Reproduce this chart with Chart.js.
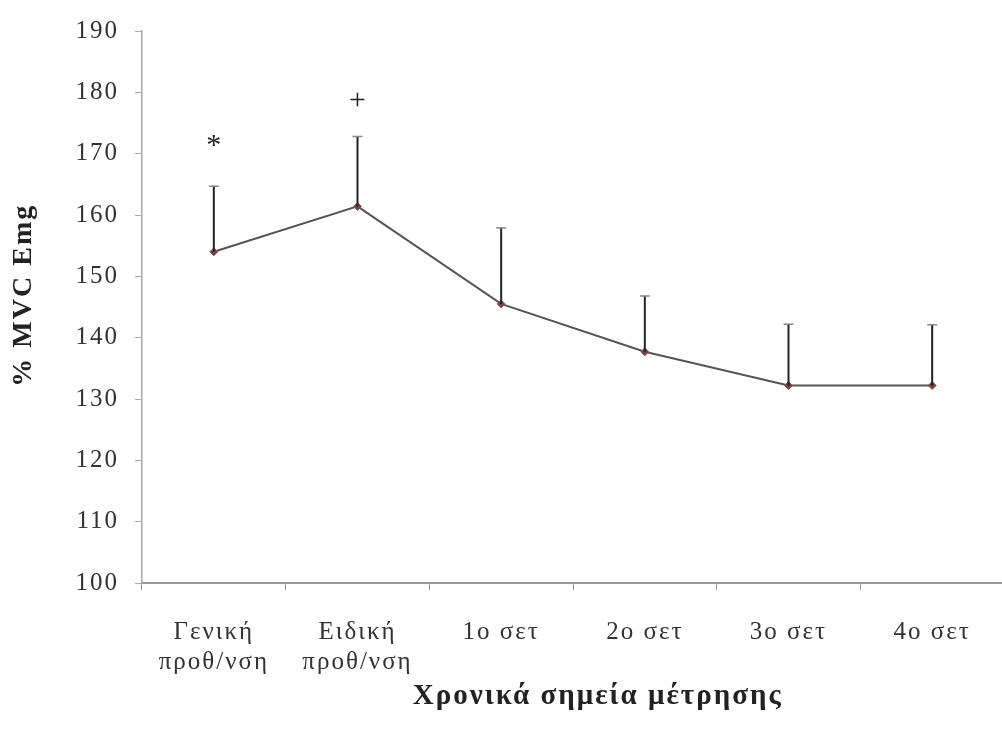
<!DOCTYPE html>
<html>
<head>
<meta charset="utf-8">
<script src="https://cdn.jsdelivr.net/npm/chart.js@4.4.1/dist/chart.umd.min.js"></script>
<style>
  html, body { margin: 0; padding: 0; background: #fff; overflow: hidden; }
  #wrap { position: relative; width: 1009px; height: 730px; }
</style>
</head>
<body>
<div id="wrap"><canvas id="emgChart"></canvas></div>
<script>
// Χρονικά σημεία μέτρησης
const timePoints = [["Γενική", "προθ/νση"], ["Ειδική", "προθ/νση"], "1ο σετ", "2ο σετ", "3ο σετ", "4ο σετ"];
// μέσος όρος % MVC
const meanValues = [154.0, 161.4, 145.5, 137.7, 132.2, 132.2];
// άνω όριο (μέσος + SD)
const upperValues = [164.7, 172.8, 157.9, 146.8, 142.2, 142.1];
// σημάνσεις στατιστικής σημαντικότητας
const sigMarks = ["*", "+", "", "", "", ""];
const sigMarkValues = [171.2, 178.6, null, null, null, null];

const serif = "'Liberation Serif', 'Times New Roman', serif";

// αραιότερα γράμματα όπως στο σκαναρισμένο πρωτότυπο
const spacing = {
    id: "spacing",
    beforeDraw(chart) {
        chart.ctx.letterSpacing = "2px";
    }
};

// κάθετες γραμμές σφάλματος και σημάνσεις
const errorBars = {
    id: "errorBars",
    afterDatasetsDraw(chart) {
        const { ctx, scales: { x, y } } = chart;
        ctx.save();
        ctx.letterSpacing = "0px";
        meanValues.forEach((m, i) => {
            const px = x.getPixelForValue(i);
            const yTop = y.getPixelForValue(upperValues[i]);
            const yMean = y.getPixelForValue(m);
            ctx.strokeStyle = "#222";
            ctx.lineWidth = 2;
            ctx.beginPath();
            ctx.moveTo(px, yMean);
            ctx.lineTo(px, yTop);
            ctx.stroke();
            ctx.strokeStyle = "#888";
            ctx.lineWidth = 1.5;
            ctx.beginPath();
            ctx.moveTo(px - 5, yTop);
            ctx.lineTo(px + 5, yTop);
            ctx.stroke();
            if (sigMarks[i]) {
                ctx.fillStyle = "#222";
                ctx.font = "30px " + serif;
                ctx.textAlign = "center";
                ctx.textBaseline = "middle";
                ctx.fillText(sigMarks[i], px, y.getPixelForValue(sigMarkValues[i]));
            }
        });
        ctx.restore();
    }
};

const ctx = document.getElementById("emgChart").getContext("2d");
new Chart(ctx, {
    type: "line",
    data: {
        labels: timePoints,
        datasets: [{
            label: "% MVC Emg",
            data: meanValues,
            borderColor: "#555",
            borderWidth: 2,
            pointStyle: "rectRot",
            pointRadius: 4,
            pointBackgroundColor: "#8b3a3a",
            pointBorderColor: "#666",
            pointBorderWidth: 1,
            tension: 0
        }]
    },
    options: {
        responsive: true,
        maintainAspectRatio: false,
        animation: false,
        layout: { padding: { top: 27, left: 0, right: 0, bottom: 0 } },
        plugins: {
            legend: { display: false },
            tooltip: { enabled: false }
        },
        scales: {
            x: {
                offset: true,
                grid: { offset: true, drawOnChartArea: false, drawTicks: true, tickLength: 7, color: "#999" },
                border: { color: "#999", width: 2 },
                ticks: { color: "#333", padding: 27, font: { family: serif, size: 25, lineHeight: 1.2 }, maxRotation: 0 },
                title: {
                    display: true,
                    text: "\u2002\u2002\u2002Χρονικά σημεία μέτρησης",
                    color: "#222",
                    font: { family: serif, size: 29, weight: "bold" },
                    padding: { top: 0, bottom: 16 }
                },
                afterFit: s => { s.height = 147; }
            },
            y: {
                min: 100,
                max: 190,
                grid: { drawOnChartArea: false, drawTicks: true, tickLength: 7, color: "#aaa" },
                border: { color: "#aaa", width: 1.5 },
                ticks: { stepSize: 10, color: "#333", padding: 16, font: { family: serif, size: 25 } },
                title: {
                    display: true,
                    text: "\u2002\u2009% MVC Emg",
                    color: "#222",
                    font: { family: serif, size: 28, weight: "bold" },
                    padding: { top: 7, bottom: 0 }
                },
                afterFit: s => { s.width = 142; }
            }
        }
    },
    plugins: [spacing, errorBars]
});
</script>
</body>
</html>
